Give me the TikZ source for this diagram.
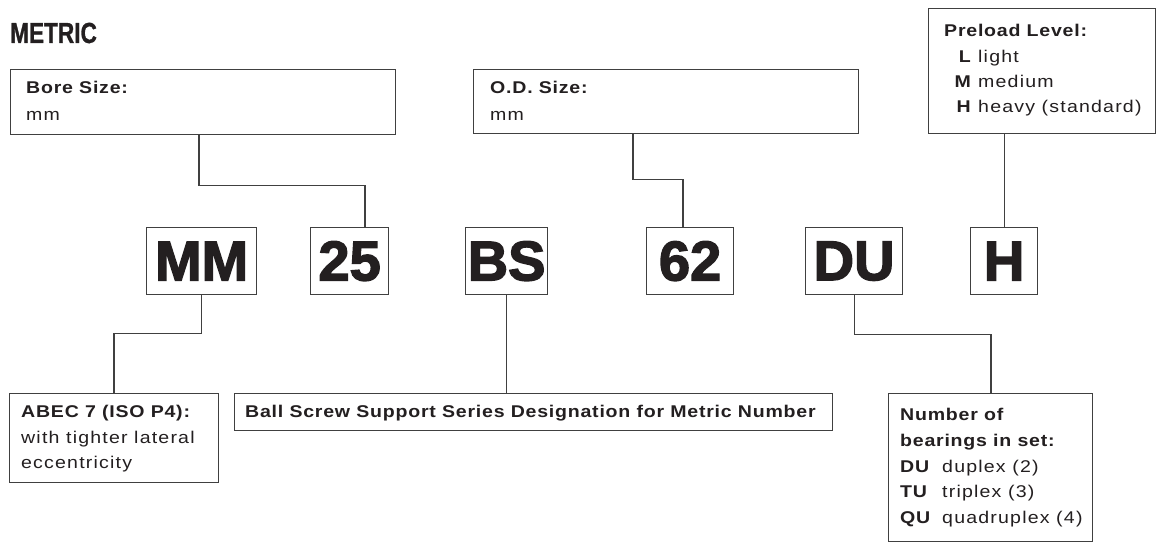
\documentclass[tikz,border=0pt]{standalone}
\usepackage{fontspec}
\setmainfont{Liberation Sans}
\newfontfamily\condfont[FakeStretch=0.78,FakeBold=1]{Liberation Sans}
\newfontfamily\bigfont[FakeBold=2.5]{Liberation Sans}
\newfontfamily\regf[FakeStretch=1.15,LetterSpace=7]{Liberation Sans}
\newfontfamily\boldf[FakeStretch=1.15,LetterSpace=4.5]{Liberation Sans}
\definecolor{ink}{HTML}{231F20}
\definecolor{linec}{HTML}{404040}
\begin{document}
\begin{tikzpicture}[x=1pt,y=-1pt,
  boxst/.style={draw=linec,line width=1.2pt,rectangle,inner sep=0pt,anchor=north west,fill=white},
  letterbox/.style={boxst,minimum height=67pt,font=\bigfont\bfseries\fontsize{56}{56}\selectfont,text=ink},
  conn/.style={draw=linec,line width=1.2pt},
  txt/.style={inner sep=0pt,anchor=base west,text=ink,font=\regf\fontsize{17}{20}\selectfont},
  btxt/.style={txt,font=\boldf\bfseries\fontsize{17}{20}\selectfont},
  keyr/.style={btxt,anchor=base east},
  title/.style={inner sep=0pt,anchor=base west,text=ink,font=\condfont\bfseries\fontsize{29}{30}\selectfont}]
\useasboundingbox (0,0) rectangle (1157,543);
% title
\node[title] (metric) at (10,43) {METRIC};
% top boxes
\node[boxst,minimum width=385pt,minimum height=65pt] (bore) at (10,69) {};
\node[btxt] (boreT) at (26,93) {Bore Size:};
\node[txt] (boreU) at (26,120) {mm};
\node[boxst,minimum width=385pt,minimum height=64pt] (od) at (473,69) {};
\node[btxt] (odT) at (490,94) {O.D. Size:};
\node[txt] (odU) at (490,121) {mm};
\node[boxst,minimum width=227pt,minimum height=125pt] (pre) at (928,8) {};
\node[btxt] (preT) at (944,37) {Preload Level:};
\node[keyr] (preL) at (971,63) {L};
\node[txt] (preLd) at (978,63) {light};
\node[keyr] (preM) at (971,88) {M};
\node[txt] (preMd) at (978,88) {medium};
\node[keyr] (preH) at (971,113) {H};
\node[txt] (preHd) at (978,113) {heavy (standard)};
% letter boxes
\node[letterbox,minimum width=110pt] (mm) at (146,227) {MM};
\node[letterbox,minimum width=78pt] (n25) at (310,227) {25};
\node[letterbox,minimum width=82pt] (bs) at (465,227) {BS};
\node[letterbox,minimum width=87pt] (n62) at (646,227) {62};
\node[letterbox,minimum width=97pt] (du) at (805,227) {DU};
\node[letterbox,minimum width=67pt] (h) at (970,227) {H};
% bottom boxes
\node[boxst,minimum width=209pt,minimum height=89pt] (abec) at (9,393) {};
\node[btxt] (abecT) at (21,417) {ABEC 7 (ISO P4):};
\node[txt] (abec2) at (21,443) {with tighter lateral};
\node[txt] (abec3) at (21,468) {eccentricity};
\node[boxst,minimum width=598pt,minimum height=37pt] (ball) at (234,393) {};
\node[btxt] (ballT) at (245,417) {Ball Screw Support Series Designation for Metric Number};
\node[boxst,minimum width=204pt,minimum height=148pt] (num) at (888,393) {};
\node[btxt] (numT1) at (900,420) {Number of};
\node[btxt] (numT2) at (900,446) {bearings in set:};
\node[btxt] (numD) at (900,472) {DU};
\node[txt] (numDd) at (942,472) {duplex (2)};
\node[btxt] (numTk) at (900,497) {TU};
\node[txt] (numTd) at (942,497) {triplex (3)};
\node[btxt] (numQ) at (900,523) {QU};
\node[txt] (numQd) at (942,523) {quadruplex (4)};
% connectors
\draw[conn] ([xshift=189pt]bore.south west) -- ++(0,50) -| ([xshift=55pt]n25.north west);
\draw[conn] ([xshift=160pt]od.south west) -- ++(0,45) -| ([xshift=37pt]n62.north west);
\draw[conn] (h.north |- pre.south) -- (h.north);
\draw[conn] (mm.south) -- ++(0,38) -| ([xshift=105pt]abec.north west);
\draw[conn] (bs.south) -- (bs.south |- ball.north);
\draw[conn] (du.south) -- ++(0,39) -| ([xshift=103pt]num.north west);
\end{tikzpicture}
\end{document}
